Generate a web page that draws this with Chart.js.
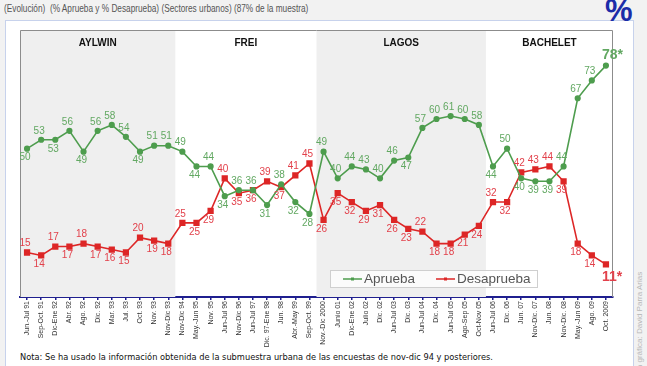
<!DOCTYPE html>
<html>
<head>
<meta charset="utf-8">
<script src="https://cdn.jsdelivr.net/npm/chart.js@4.4.1/dist/chart.umd.min.js"></script>
<style>
  html, body { margin: 0; padding: 0; }
  body { width: 647px; height: 366px; background: #f2f2f2; position: relative; overflow: hidden;
         font-family: "Liberation Sans", Arial, sans-serif; }
  #box { position: absolute; left: 5px; top: 20px; width: 627px; height: 360px; background: #fff;
         border: 1px solid #c7d2ec; }
  #title { position: absolute; left: 4px; top: 2px; font-size: 11px; color: #555; white-space: nowrap;
           transform-origin: 0 0; }
  #pct { position: absolute; left: 605px; top: -7px; font-size: 31px; font-weight: bold; color: #1b2ca8; }
  #note { position: absolute; left: 20px; top: 352px; font-size: 9px; font-family: "DejaVu Sans", sans-serif;
          color: #111; white-space: nowrap; transform-origin: 0 0; }
  #credit { position: absolute; left: 635px; font-size: 8px; color: #b8b8b8; white-space: nowrap;
            transform-origin: 0 0; transform: rotate(-90deg); }
  canvas { position: absolute; left: 0; top: 0; }
</style>
</head>
<body>
<div id="box"></div>
<div id="title">(Evolución)&nbsp; (% Aprueba y % Desaprueba) (Sectores urbanos) (87% de la muestra)</div>
<div id="pct">%</div>
<div id="note">Nota: Se ha usado la información obtenida de la submuestra urbana de las encuestas de nov-dic 94 y posteriores.</div>
<div id="credit">Elaboración gráfica: David Parra Arias</div>
<canvas id="chart" width="647" height="366"></canvas>
<script>
// Survey dates
const labels = [
  'Jun.-Jul 91', 'Sep-Oct. 91', 'Dic-Ene 92', 'Abr. 92', 'Ago. 92', 'Dic. 92', 'Mar. 93', 'Jul. 93',
  'Oct. 93', 'Nov. 93', 'Nov-Dic 93', 'Nov-Dic 94', 'May.-Jun 95', 'Nov. 95', 'Jun-Jul 96', 'Nov-Dic 96',
  'Jun-Jul 97', 'Dic. 97-Ene 98', 'Jun. 98', 'Abr.-May 99', 'Sep-Oct. 99', 'Nov.-Dic 2000', 'Junio 01',
  'Dic-Ene 02', 'Julio 02', 'Dic. 02', 'Jun-Jul 03', 'Dic. 03', 'Jun-Jul 04', 'Dic. 04', 'Jun-Jul 05',
  'Ago-Sep 05', 'Oct-Nov 05', 'Jun-Jul 06', 'Dic. 06', 'Jun. 07', 'Nov-Dic. 07', 'Jun. 08', 'Nov-Dic. 08',
  'May.-Jun 09', 'Ago. 09', 'Oct. 2009'
];

const aprueba = [50, 53, 53, 56, 49, 56, 58, 54, 49, 51, 51, 49, 44, 44, 34, 36, 36, 31, 38, 32, 28,
                 49, 40, 44, 43, 40, 46, 47, 57, 60, 61, 60, 58, 44, 50, 40, 39, 39, 44, 67, 73, 78];
const desaprueba = [15, 14, 17, 17, 18, 17, 16, 15, 20, 19, 18, 25, 25, 29, 40, 35, 36, 39, 37, 41, 45,
                    26, 35, 32, 29, 31, 26, 23, 22, 18, 18, 21, 24, 32, 32, 42, 43, 44, 39, 18, 14, 11];

// Governments and the index of their first survey
const periods = ['AYLWIN', 'FREI', 'LAGOS', 'BACHELET'];
const periodStart = [0, 11, 21, 33];

const GREEN = '#4e9d4e', GREEN_TXT = '#62a862';
const RED = '#dd2626', RED_TXT = '#e2414b';

// squeeze the html texts to the width they have in the picture
function fitWidth(id, w) {
  const el = document.getElementById(id);
  el.style.transform = (el.style.transform || '') + ' scaleX(' + (w / el.offsetWidth) + ')';
}
fitWidth('title', 304);
fitWidth('note', 473);
const credit = document.getElementById('credit');
credit.style.top = (272 + credit.offsetWidth) + 'px';

// shaded bands, government names and frame
const bandsPlugin = {
  id: 'bands',
  beforeDatasetsDraw(chart) {
    const { ctx, chartArea: a, scales: { x } } = chart;
    const edge = (i) => i === 0 ? a.left : (x.getPixelForValue(i - 1) + x.getPixelForValue(i)) / 2;
    ctx.save();
    periods.forEach((name, p) => {
      const l = edge(periodStart[p]);
      const r = p === periods.length - 1 ? a.right : edge(periodStart[p + 1]);
      if (p % 2 === 0) {
        ctx.fillStyle = '#efefef';
        ctx.fillRect(l, a.top, r - l, a.bottom - a.top);
      }
      ctx.fillStyle = '#111';
      ctx.font = 'bold 10px "Liberation Sans", Arial';
      ctx.textAlign = 'center';
      ctx.textBaseline = 'middle';
      ctx.fillText(name, (l + r) / 2, a.top + 13);
    });
    ctx.strokeStyle = '#8c8c8c';
    ctx.lineWidth = 1;
    ctx.beginPath();
    ctx.moveTo(a.left + 0.5, a.bottom);
    ctx.lineTo(a.left + 0.5, a.top + 0.5);
    ctx.lineTo(a.right - 0.5, a.top + 0.5);
    ctx.lineTo(a.right - 0.5, a.bottom);
    ctx.stroke();
    ctx.restore();
  }
};

// value labels next to each point: away from the other line when they are close,
// otherwise on the outer side of the bend
const valuesPlugin = {
  id: 'values',
  afterDatasetsDraw(chart) {
    const ctx = chart.ctx;
    const all = chart.data.datasets;
    ctx.save();
    all.forEach((ds, di) => {
      const meta = chart.getDatasetMeta(di);
      const d = ds.data;
      const other = all[1 - di].data;
      meta.data.forEach((pt, i) => {
        const prev = i > 0 ? d[i - 1] : d[i + 1];
        const next = i < d.length - 1 ? d[i + 1] : d[i - 1];
        let above;
        if (Math.abs(d[i] - other[i]) < 10) {
          above = d[i] > other[i] || (d[i] === other[i] && di === 0);
        } else {
          above = d[i] > (prev + next) / 2;
        }
        ctx.fillStyle = ds.labelColor;
        ctx.textBaseline = 'middle';
        if (i === d.length - 1) {
          ctx.font = 'bold 14px "Liberation Sans", Arial';
          ctx.textAlign = 'left';
          ctx.fillText(d[i] + '*', pt.x - 4, above ? pt.y - 10 : pt.y + 13);
        } else {
          ctx.font = '10px "Liberation Sans", Arial';
          ctx.textAlign = 'center';
          ctx.fillText(d[i], pt.x - 2, above ? pt.y - 9 : pt.y + 9);
        }
      });
    });
    ctx.restore();
  }
};

// legend box inside the plot
const legendPlugin = {
  id: 'boxLegend',
  afterDraw(chart) {
    const { ctx, chartArea: a } = chart;
    const top = a.bottom - 27, left = a.left + 310;
    ctx.save();
    ctx.fillStyle = 'rgba(255,255,255,0.75)';
    ctx.fillRect(left, top, 207, 17);
    ctx.strokeStyle = '#cfcfcf';
    ctx.strokeRect(left + 0.5, top + 0.5, 207, 17);
    let x = left + 13;
    chart.data.datasets.forEach((ds) => {
      const y = top + 9;
      ctx.strokeStyle = ds.borderColor;
      ctx.lineWidth = 1.5;
      ctx.beginPath();
      ctx.moveTo(x, y);
      ctx.lineTo(x + 19, y);
      ctx.stroke();
      ctx.fillStyle = ds.borderColor;
      ctx.fillRect(x + 8, y - 1.5, 3, 3);
      ctx.fillStyle = '#555';
      ctx.font = '13.5px "Liberation Sans", Arial';
      ctx.textAlign = 'left';
      ctx.textBaseline = 'middle';
      ctx.fillText(ds.label, x + 21, y);
      x += 93;
    });
    ctx.restore();
  }
};

new Chart(document.getElementById('chart'), {
  type: 'line',
  data: {
    labels: labels,
    datasets: [{
      label: 'Aprueba',
      data: aprueba,
      borderColor: GREEN,
      backgroundColor: GREEN,
      labelColor: GREEN_TXT,
      borderWidth: 1.6,
      pointRadius: 2.3,
      pointStyle: 'circle',
      tension: 0
    }, {
      label: 'Desaprueba',
      data: desaprueba,
      borderColor: RED,
      backgroundColor: RED,
      labelColor: RED_TXT,
      borderWidth: 1.6,
      pointRadius: 3.3,
      pointStyle: 'rect',
      tension: 0
    }]
  },
  options: {
    responsive: false,
    animation: false,
    layout: { padding: { left: 20, right: 34, top: 30, bottom: 0 } },
    plugins: { legend: { display: false }, tooltip: { enabled: false } },
    scales: {
      x: {
        offset: true,
        afterFit: (s) => { s.height = 69; },
        border: { color: '#1f1f8f', width: 2 },
        grid: { drawOnChartArea: false, drawTicks: true, tickLength: 3, color: '#1f1f8f', lineWidth: 1.5 },
        ticks: {
          autoSkip: false,
          maxRotation: 90,
          minRotation: 90,
          padding: 1,
          color: '#333',
          font: { size: 7, family: '"Liberation Sans Narrow", "Liberation Sans", Arial' }
        }
      },
      y: { display: false, min: 0, max: 90 }
    }
  },
  plugins: [bandsPlugin, valuesPlugin, legendPlugin]
});
</script>
</body>
</html>
